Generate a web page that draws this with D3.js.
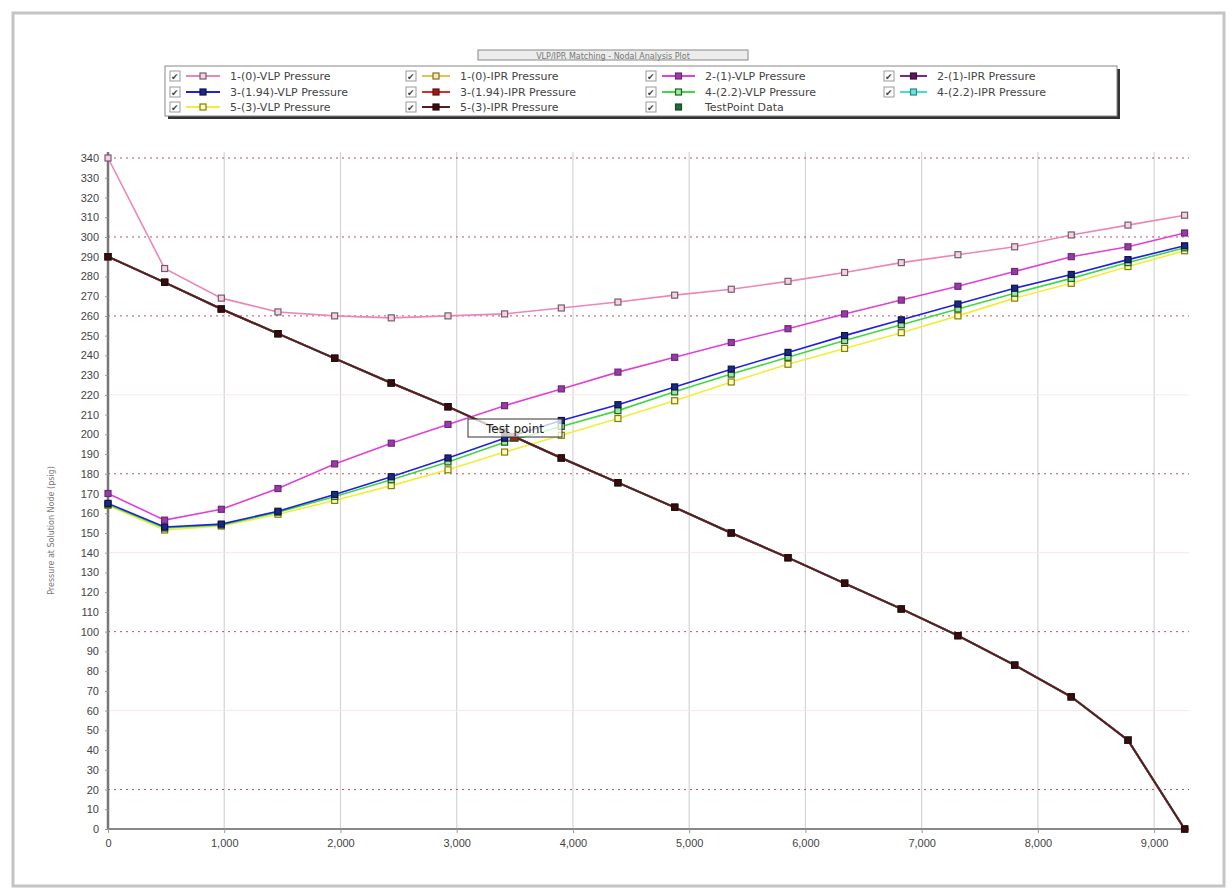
<!DOCTYPE html>
<html>
<head>
<meta charset="utf-8">
<script src="https://cdn.jsdelivr.net/npm/d3@7"></script>
<style>
  body { margin: 0; background: #fff; }
  svg { display: block; font-family: "DejaVu Sans", Verdana, sans-serif; }
</style>
</head>
<body>
<svg id="chart" width="1232" height="895"></svg>
<script>
// rate values (x) shared by every curve
const rates = [0, 487, 975, 1462, 1950, 2437, 2925, 3412, 3900, 4387,
               4875, 5362, 5850, 6337, 6825, 7312, 7800, 8287, 8775, 9262];

// VLP pressures for each sensitivity
const vlp1 = [340, 284, 269, 262, 260, 259, 260, 261, 264, 267,
              270.5, 273.5, 277.5, 282, 287, 291, 295, 301, 306, 311];
const vlp2 = [170, 156.5, 162, 172.5, 185, 195.5, 205, 214.5, 223, 231.5,
              239, 246.5, 253.5, 261, 268, 275, 282.5, 290, 295, 302];
const vlp3 = [165, 153, 154.5, 161, 169.5, 178.5, 188, 198, 207, 215,
              224, 233, 241.5, 250, 258, 266, 274, 281, 288.5, 295.5];
const vlp4 = [164.5, 152.5, 154, 160.5, 168.5, 177, 186, 196, 204, 212,
              221.5, 230.5, 239, 247.5, 255.5, 263.5, 271.5, 279, 287, 294.5];
const vlp5 = [164, 151.5, 153.5, 159.5, 166.5, 174, 182, 191, 199.5, 208,
              217, 226.5, 235.5, 243.5, 251.5, 260, 269, 276.5, 285, 293];

// IPR pressure (same for every case)
const ipr = [290, 277, 263.5, 251, 238.5, 226, 214, 201, 188, 175.5,
             163, 150, 137.5, 124.5, 111.5, 98, 83, 67, 45, 0];

const testPoint = { rate: 3494, pressure: 198.5 };

const yTicks = [0, 10, 20, 30, 40, 50, 60, 70, 80, 90, 100, 110, 120, 130, 140, 150, 160, 170,
                180, 190, 200, 210, 220, 230, 240, 250, 260, 270, 280, 290, 300, 310, 320, 330, 340];
const xTicks = [0, 1000, 2000, 3000, 4000, 5000, 6000, 7000, 8000, 9000];
const dashedGrid = [20, 100, 180, 260, 300, 340];
const faintGrid = [60, 140, 220];

// series: name, values, line colour, marker stroke, marker fill
const series = [
  { name: "1-(0)-VLP Pressure", values: vlp1, line: "#ec85b8", mStroke: "#7a5a70", mFill: "#f2d4e4" },
  { name: "1-(0)-IPR Pressure", values: ipr, line: "#e8c34a", mStroke: "#8a6a20", mFill: "#f7eab0" },
  { name: "2-(1)-VLP Pressure", values: vlp2, line: "#e040d8", mStroke: "#6a2a78", mFill: "#9a3aa8" },
  { name: "2-(1)-IPR Pressure", values: ipr, line: "#7a2a80", mStroke: "#3a103a", mFill: "#5a1a5a" },
  { name: "3-(1.94)-VLP Pressure", values: vlp3, line: "#2020e0", mStroke: "#101050", mFill: "#1a2a80" },
  { name: "3-(1.94)-IPR Pressure", values: ipr, line: "#e02828", mStroke: "#601010", mFill: "#a01818" },
  { name: "4-(2.2)-VLP Pressure", values: vlp4, line: "#40d840", mStroke: "#206020", mFill: "#9be89b" },
  { name: "4-(2.2)-IPR Pressure", values: ipr, line: "#40e0d8", mStroke: "#208a88", mFill: "#70e0e0" },
  { name: "5-(3)-VLP Pressure", values: vlp5, line: "#f0ee3a", mStroke: "#808000", mFill: "#fbf8c0" },
  { name: "5-(3)-IPR Pressure", values: ipr, line: "#5a1a1e", mStroke: "#2a0808", mFill: "#3a0c10" },
  { name: "TestPoint Data", values: null, line: null, mStroke: "#1a4a28", mFill: "#236a38" }
];

const svg = d3.select("#chart");

// outer frame
svg.append("rect")
  .attr("x", 13).attr("y", 13).attr("width", 1211).attr("height", 873)
  .attr("fill", "#fff").attr("stroke", "#c4c4c4").attr("stroke-width", 3);

const plot = { left: 108, right: 1189, top: 152, bottom: 829 };

const x = d3.scaleLinear().domain([0, 9300]).range([plot.left, plot.right]);
const y = d3.scaleLinear().domain([0, 340]).range([plot.bottom, 158]);

// --- grid ---
svg.append("g").selectAll("line")
  .data(xTicks.slice(1))
  .join("line")
  .attr("x1", d => x(d)).attr("x2", d => x(d))
  .attr("y1", plot.top).attr("y2", plot.bottom)
  .attr("stroke", "#d4d4d4").attr("stroke-width", 1.2);

svg.append("g").selectAll("line")
  .data(faintGrid)
  .join("line")
  .attr("x1", plot.left).attr("x2", plot.right)
  .attr("y1", d => y(d)).attr("y2", d => y(d))
  .attr("stroke", "#f8e8ea").attr("stroke-width", 1);

svg.append("g").selectAll("line")
  .data(dashedGrid)
  .join("line")
  .attr("x1", plot.left).attr("x2", plot.right)
  .attr("y1", d => y(d)).attr("y2", d => y(d))
  .attr("stroke", "#cc4a5c").attr("stroke-width", 1)
  .attr("stroke-dasharray", "2,4");

// --- axes ---
const yAxis = svg.append("g")
  .attr("transform", `translate(${plot.left},0)`)
  .call(d3.axisLeft(y).tickValues(yTicks).tickSize(3).tickPadding(6));
yAxis.select(".domain").attr("stroke", "#777").attr("stroke-width", 2.5)
  .attr("d", `M0,${plot.top}V${plot.bottom}`);

const xAxis = svg.append("g")
  .attr("transform", `translate(0,${plot.bottom})`)
  .call(d3.axisBottom(x).tickValues(xTicks).tickFormat(d3.format(",")).tickSize(4).tickPadding(6));
xAxis.select(".domain").attr("stroke", "#888").attr("stroke-width", 2)
  .attr("d", `M${plot.left},0H${plot.right}`);

svg.selectAll(".tick line").attr("stroke", "#999");
svg.selectAll(".tick text")
  .attr("fill", "#444")
  .style("font-size", "11px");

// y axis title (small, faint)
svg.append("text")
  .attr("transform", `translate(54,${(plot.top + plot.bottom) / 2 + 40}) rotate(-90)`)
  .attr("text-anchor", "middle")
  .attr("fill", "#777")
  .style("font-size", "8px")
  .text("Pressure at Solution Node (psig)");

// --- curves ---
const line = d3.line()
  .x((d, i) => x(rates[i]))
  .y(d => y(d));

const curves = series.filter(s => s.values);
const drawOrder = [0, 2, 8, 6, 4, 1, 3, 5, 7, 9];

drawOrder.forEach(k => {
  const s = curves[k];
  const isIpr = s.name.includes("IPR");
  svg.append("path")
    .datum(s.values)
    .attr("d", line)
    .attr("fill", "none")
    .attr("stroke", s.line)
    .attr("stroke-width", isIpr ? 2 : 1.6);

  svg.append("g").selectAll("rect")
    .data(s.values)
    .join("rect")
    .attr("x", (d, i) => x(rates[i]) - 3)
    .attr("y", d => y(d) - 3)
    .attr("width", 6).attr("height", 6)
    .attr("fill", s.mFill)
    .attr("stroke", s.mStroke)
    .attr("stroke-width", 1.2);
});

// test point
const tp = series[series.length - 1];
svg.append("rect")
  .attr("x", x(testPoint.rate) - 4).attr("y", y(testPoint.pressure) - 4)
  .attr("width", 8).attr("height", 8)
  .attr("fill", "#a02020").attr("stroke", tp.mStroke);

svg.append("rect")
  .attr("x", 468).attr("y", 419).attr("width", 94).attr("height", 18)
  .attr("fill", "#fff").attr("fill-opacity", 0.75)
  .attr("stroke", "#333").attr("stroke-width", 1);
svg.append("text")
  .attr("x", 515).attr("y", 432.5)
  .attr("text-anchor", "middle")
  .attr("fill", "#222")
  .style("font-size", "12px")
  .text("Test point");

// --- title bar ---
svg.append("rect")
  .attr("x", 478).attr("y", 50).attr("width", 270).attr("height", 10)
  .attr("fill", "#ececec").attr("stroke", "#888").attr("stroke-width", 1);
svg.append("text")
  .attr("x", 613).attr("y", 58.5)
  .attr("text-anchor", "middle")
  .attr("fill", "#777")
  .style("font-size", "8px")
  .text("VLP/IPR Matching - Nodal Analysis Plot");

// --- legend ---
const legend = svg.append("g");
legend.append("rect")
  .attr("x", 168).attr("y", 69).attr("width", 952).attr("height", 50)
  .attr("fill", "#333");
legend.append("rect")
  .attr("x", 165).attr("y", 66).attr("width", 952).attr("height", 50)
  .attr("fill", "#fff").attr("stroke", "#888");

const colBox = [172, 408, 648, 886];
const colText = [230, 460, 705, 937];
const rowY = [76, 92, 107];

series.forEach((s, i) => {
  const c = i % 4, r = Math.floor(i / 4);
  const cx = colBox[c], cy = rowY[r];
  legend.append("rect")
    .attr("x", cx - 2).attr("y", cy - 5)
    .attr("width", 10).attr("height", 10)
    .attr("fill", "#fff").attr("stroke", "#999");
  legend.append("text")
    .attr("x", cx - 1).attr("y", cy + 4)
    .attr("fill", "#444")
    .style("font-size", "9px")
    .text("✔");
  if (s.line) {
    legend.append("line")
      .attr("x1", cx + 14).attr("x2", colText[c] - 10)
      .attr("y1", cy).attr("y2", cy)
      .attr("stroke", s.line).attr("stroke-width", 2);
  }
  const mx = (cx + 14 + colText[c] - 10) / 2;
  legend.append("rect")
    .attr("x", mx - 3).attr("y", cy - 3)
    .attr("width", 6).attr("height", 6)
    .attr("fill", s.mFill).attr("stroke", s.mStroke).attr("stroke-width", 1.2);
  legend.append("text")
    .attr("x", colText[c]).attr("y", cy + 4)
    .attr("fill", "#444")
    .style("font-size", "11px")
    .text(s.name);
});
</script>
</body>
</html>
